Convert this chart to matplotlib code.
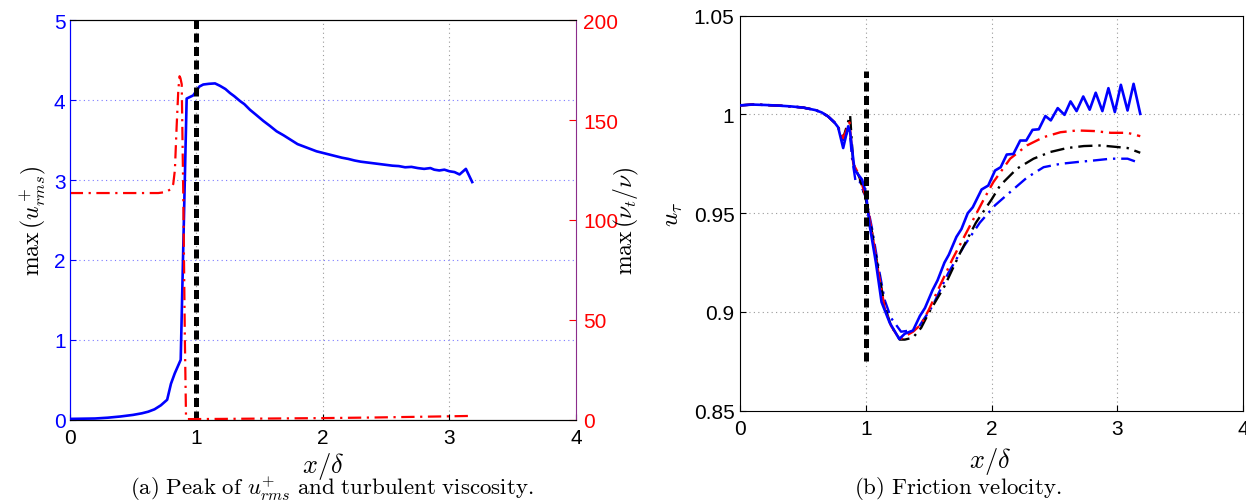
import matplotlib
matplotlib.use('Agg')
import matplotlib.pyplot as plt

plt.rcParams['font.family'] = ['Liberation Sans', 'DejaVu Sans']
plt.rcParams['mathtext.fontset'] = 'cm'

# (a) peak of u_rms+ (left axis) and turbulent viscosity (right axis)
x_urms = [0, 0.2, 0.3, 0.4, 0.5, 0.57, 0.62, 0.67, 0.72, 0.77, 0.8, 0.83, 0.877,
          0.924, 0.976, 1.024, 1.055, 1.1, 1.148, 1.187, 1.23, 1.266, 1.3, 1.345, 1.38,
          1.424, 1.47, 1.53, 1.58, 1.635, 1.69, 1.74, 1.8, 1.85, 1.9, 1.95, 2.0, 2.05,
          2.1, 2.15, 2.2, 2.25, 2.3, 2.35, 2.4, 2.45, 2.5, 2.55, 2.6, 2.65, 2.7, 2.75,
          2.8, 2.85, 2.88, 2.92, 2.96, 3.0, 3.04, 3.08, 3.13, 3.18]
urms = [0.01, 0.015, 0.025, 0.04, 0.06, 0.08, 0.1, 0.13, 0.18, 0.25, 0.45, 0.58, 0.75,
        4.02, 4.06, 4.17, 4.196, 4.205, 4.21, 4.18, 4.14, 4.09, 4.05, 3.99, 3.95,
        3.88, 3.82, 3.74, 3.68, 3.61, 3.56, 3.51, 3.45, 3.42, 3.39, 3.36, 3.34, 3.32,
        3.3, 3.28, 3.265, 3.245, 3.23, 3.22, 3.21, 3.2, 3.19, 3.18, 3.175, 3.16, 3.165, 3.15,
        3.14, 3.15, 3.13, 3.12, 3.13, 3.11, 3.1, 3.07, 3.14, 2.975]

x_nut = [0, 0.5, 0.7, 0.76, 0.8, 0.818, 0.831, 0.845, 0.858, 0.868, 0.875, 0.885,
         0.897, 0.91, 0.919, 0.93, 1.2, 1.6, 2.0, 2.4, 2.8, 3.0, 3.18]
nut = [113.5, 113.5, 113.5, 114, 115.5, 118, 125, 147, 165, 172, 171, 168,
       114, 40, 1, 0.3, 0.4, 0.6, 0.8, 1.1, 1.5, 1.7, 1.9]

# (b) friction velocity, four cases
x_common = [0, 0.1, 0.2, 0.3, 0.4, 0.5, 0.6, 0.65, 0.7, 0.75, 0.78]
u_common = [1.0046, 1.0050, 1.0048, 1.0045, 1.0041, 1.0035, 1.0022, 1.0010, 0.9990, 0.9960, 0.9935]

x_solid = [0.82, 0.86, 0.875, 0.91, 0.97, 1.0, 1.03, 1.08, 1.125, 1.19, 1.266, 1.31,
           1.375, 1.43, 1.47, 1.53, 1.57, 1.625, 1.66, 1.72, 1.76, 1.81, 1.85, 1.92,
           1.973, 2.027, 2.072, 2.12, 2.173, 2.227, 2.275, 2.325, 2.375, 2.427, 2.47,
           2.525, 2.579, 2.627, 2.675, 2.728, 2.779, 2.827, 2.88, 2.928, 2.979, 3.027,
           3.08, 3.128, 3.181]
u_solid = [0.983, 0.994, 0.991, 0.972, 0.967, 0.9605, 0.944, 0.925, 0.905, 0.8945, 0.8863, 0.889,
           0.8906, 0.898, 0.902, 0.911, 0.916, 0.925, 0.929, 0.938, 0.942, 0.950, 0.953, 0.962,
           0.964, 0.9716, 0.9733, 0.9797, 0.980, 0.9868, 0.9868, 0.9922, 0.9925, 0.9992, 0.997,
           1.0032, 0.9998, 1.0066, 1.0017, 1.0091, 1.0024, 1.011, 1.0017, 1.0133, 1.0012, 1.015,
           1.002, 1.0155, 1.0003]

x_red = [0.82, 0.87, 0.9, 0.95, 1.0, 1.05, 1.1, 1.15, 1.2, 1.27, 1.3125, 1.375, 1.4375,
         1.5, 1.5625, 1.6875, 1.8125, 1.9375, 2.013, 2.147, 2.28, 2.413, 2.547, 2.68,
         2.813, 2.947, 3.08, 3.181]
u_red = [0.988, 0.996, 0.975, 0.969, 0.958, 0.940, 0.920, 0.902, 0.893, 0.886, 0.8877, 0.8900, 0.8936,
         0.901, 0.9097, 0.9266, 0.9418, 0.957, 0.9657, 0.9776, 0.9843, 0.9885, 0.991, 0.9919,
         0.9916, 0.9907, 0.9907, 0.989]

x_black = [0.82, 0.875, 0.9, 0.95, 1.0, 1.05, 1.1, 1.15, 1.2, 1.27, 1.31, 1.375, 1.44,
           1.5, 1.625, 1.75, 1.875, 2.0, 2.067, 2.2, 2.333, 2.467, 2.6, 2.733, 2.867,
           3.0, 3.08, 3.181]
u_black = [0.988, 0.9996, 0.975, 0.968, 0.957, 0.940, 0.921, 0.903, 0.893, 0.886, 0.886, 0.887, 0.892,
           0.8995, 0.913, 0.930, 0.9452, 0.957, 0.964, 0.9725, 0.9776, 0.981, 0.983, 0.984, 0.9843,
           0.9835, 0.983, 0.9806]

x_bdash = [0.82, 0.87, 0.89, 0.92, 0.95, 1.0, 1.05, 1.1, 1.15, 1.2, 1.28, 1.34, 1.406,
           1.53, 1.656, 1.78, 1.906, 2.027, 2.147, 2.28, 2.413, 2.547, 2.68, 2.813, 2.947,
           3.08, 3.155]
u_bdash = [0.987, 0.993, 0.978, 0.9655, 0.966, 0.958, 0.942, 0.923, 0.906, 0.897, 0.890, 0.8905, 0.891,
           0.903, 0.9198, 0.9333, 0.9452, 0.954, 0.9607, 0.968, 0.9733, 0.975, 0.9759, 0.9767, 0.9776,
           0.9776, 0.9759]

x_shock = 1.0
shock_b = [0.875, 1.022]

W, H = 1246, 502
fig = plt.figure(figsize=(W / 100, H / 100), dpi=100)

# ---------------- panel (a) ----------------
ax1 = fig.add_axes([69.7 / W, 1 - 420.7 / H, (576 - 69.7) / W, 399.4 / H])
ax2 = ax1.twinx()
ax1.plot(x_urms, urms, color='blue', lw=1.9, zorder=3)
ax1.axvline(x_shock, color='black', lw=3.6, dashes=(1.8, 0.9), zorder=4)
ax2.plot(x_nut, nut, color='red', lw=1.6, dashes=(6, 2.5, 1, 2.5))

ax1.set_xlim(0, 4)
ax1.set_ylim(0, 5)
ax2.set_ylim(0, 200)
ax1.set_xticks([0, 1, 2, 3, 4])
ax1.set_yticks([0, 1, 2, 3, 4, 5])
ax2.set_yticks([0, 50, 100, 150, 200])
ax1.grid(False)
for xv in [1, 2, 3]:
    ax1.axvline(xv, color='#9a9a9a', lw=0.8, ls=(0, (1, 3)), zorder=1)
for yv in [1, 2, 3, 4]:
    ax1.axhline(yv, color='#7a7aff', lw=0.8, ls=(0, (1, 3)), zorder=1)

ax1.tick_params(axis='x', direction='in', length=4, labelsize=15, pad=6, colors='black')
ax1.tick_params(axis='y', direction='in', length=4, labelsize=15, pad=3, colors='blue')
ax2.tick_params(axis='y', direction='in', length=5, labelsize=15, pad=5, colors='red')
ax1.spines['left'].set_color('blue')
ax2.spines['left'].set_color('blue')
ax2.spines['right'].set_color('#8b2d8b')
ax1.spines['right'].set_visible(False)

ax1.set_ylabel(r'$\max\,(u^+_{rms})$', fontsize=17, labelpad=4)
ax2.set_ylabel(r'$\max\,(\nu_t/\nu)$', fontsize=17)
ax2.yaxis.set_label_coords(1.07, 0.5)
fig.text(323 / W, 1 - 467 / H, r'$x/\delta$', fontsize=19, ha='center', va='center')
fig.text(332 / W, 1 - 489 / H,
         r'$\mathrm{(a)\ Peak\ of\ }u^{+}_{rms}\mathrm{\ and\ turbulent\ viscosity.}$',
         fontsize=16.5, ha='center', va='center')

# ---------------- panel (b) ----------------
ax3 = fig.add_axes([740 / W, 1 - 411.7 / H, 503.3 / W, 395 / H])
for xv in [1, 2, 3]:
    ax3.axvline(xv, color='#9a9a9a', lw=0.8, ls=(0, (1, 3)), zorder=1)
for yv in [0.9, 0.95, 1.0]:
    ax3.axhline(yv, color='#9a9a9a', lw=0.8, ls=(0, (1, 3)), zorder=1)

ax3.plot(x_common + x_bdash, u_common + u_bdash, color='blue', lw=1.7, dashes=(6, 2.5, 1, 2.5), zorder=3)
ax3.plot(x_common + x_black, u_common + u_black, color='black', lw=1.7, dashes=(6, 2.5, 1, 2.5), zorder=3)
ax3.plot(x_common + x_red, u_common + u_red, color='red', lw=1.7, dashes=(6, 2.5, 1, 2.5), zorder=3)
ax3.plot(x_common + x_solid, u_common + u_solid, color='blue', lw=1.9, zorder=4)
ax3.plot([x_shock, x_shock], shock_b, color='black', lw=3.6, dashes=(1.8, 0.9), zorder=5)

ax3.set_xlim(0, 4)
ax3.set_ylim(0.85, 1.05)
ax3.set_xticks([0, 1, 2, 3, 4])
ax3.set_yticks([0.85, 0.9, 0.95, 1.0, 1.05])
ax3.set_yticklabels(['0.85', '0.9', '0.95', '1', '1.05'])
ax3.tick_params(direction='in', length=4, labelsize=15)
ax3.tick_params(axis='x', pad=6)
ax3.tick_params(axis='y', pad=4)
ax3.set_ylabel(r'$u_\tau$', fontsize=18, labelpad=6)
fig.text(990 / W, 1 - 462 / H, r'$x/\delta$', fontsize=19, ha='center', va='center')
fig.text(958 / W, 1 - 489 / H, r'$\mathrm{(b)\ Friction\ velocity.}$',
         fontsize=16.5, ha='center', va='center')

fig.savefig('out.png', dpi=100)
